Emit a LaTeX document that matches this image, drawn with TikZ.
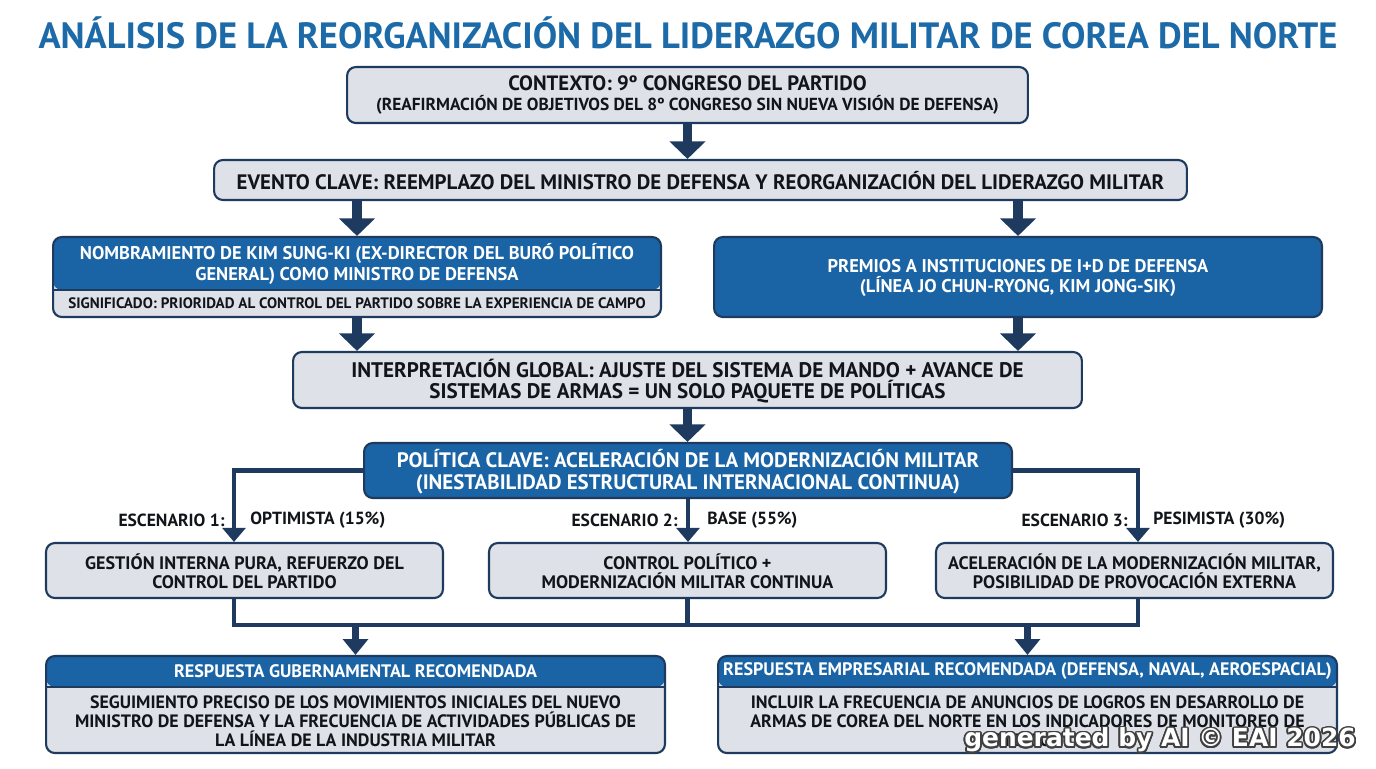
\documentclass[tikz,border=0pt]{standalone}
\usepackage{fontspec}
\setmainfont{PT Sans}
\newfontfamily\wmfont{DejaVu Sans}
\usepackage[copies]{contour}
\contourlength{1pt}
\usetikzlibrary{arrows.meta}

\definecolor{navy}{HTML}{1E3A5F}
\definecolor{hblue}{HTML}{1A64A6}
\definecolor{boxgray}{HTML}{DEE2E8}
\definecolor{titleblue}{HTML}{1C6BA8}
\definecolor{ink}{HTML}{111418}

\tikzset{
  graybox/.style={draw=navy, line width=1.2pt, fill=boxgray, rounded corners=5pt, inner sep=0pt},
  bluebox/.style={graybox, fill=hblue},
  headbox/.style={graybox, path picture={
      \fill[hblue] (path picture bounding box.north west) rectangle ([yshift=-#1]path picture bounding box.north east);
      \draw[navy, line width=0.8pt] ([yshift=-#1]path picture bounding box.north west) -- ([yshift=-#1]path picture bounding box.north east);}},
  dtxt/.style={align=center, text=ink, font=\bfseries\fontsize{10.5}{11.4}\selectfont, inner sep=0pt},
  wtxt/.style={dtxt, text=white},
  lbl/.style={text=ink, font=\bfseries\fontsize{10}{11}\selectfont, inner sep=0pt},
  bigarrow/.style={draw=navy, line width=5.5pt, -{Triangle[width=20pt,length=10pt]}},
  branch/.style={draw=navy, line width=2.8pt, -{Triangle[width=13pt,length=8pt]}},
  joinline/.style={draw=navy, line width=2.8pt},
  midarrow/.style={draw=navy, line width=4pt, -{Triangle[width=14pt,length=9pt]}}
}

\begin{document}
\begin{tikzpicture}[x=0.02cm,y=-0.02cm]
\useasboundingbox (0,0) rectangle (1376,768);

\node[text=titleblue, font=\bfseries\fontsize{20.8}{23}\selectfont] (title) at (688,33)
  {ANÁLISIS DE LA REORGANIZACIÓN DEL LIDERAZGO MILITAR DE COREA DEL NORTE};

\node[graybox, minimum width=13.62cm, minimum height=1.12cm] (ctx) at (687.5,95) {};
\node[dtxt, font=\bfseries\fontsize{11.8}{12}\selectfont] (ctxtxt) at (687.5,95) {CONTEXTO: 9º CONGRESO DEL PARTIDO\\[-1pt]
  {\fontsize{9.9}{10}\selectfont (REAFIRMACIÓN DE OBJETIVOS DEL 8º CONGRESO SIN NUEVA VISIÓN DE DEFENSA)}};

\node[graybox, minimum width=19.46cm, minimum height=0.8cm] (event) at (700.5,180) {};
\node[dtxt, font=\bfseries\fontsize{11.9}{12}\selectfont] (eventtxt) at (700.5,181)
  {EVENTO CLAVE: REEMPLAZO DEL MINISTRO DE DEFENSA Y REORGANIZACIÓN DEL LIDERAZGO MILITAR};

\node[headbox=1.06cm, minimum width=12.16cm, minimum height=1.6cm] (kim) at (357,277) {};
\node[wtxt] (kimhead) at (357,264) {NOMBRAMIENTO DE KIM SUNG-KI (EX-DIRECTOR DEL BURÓ POLÍTICO\\
  GENERAL) COMO MINISTRO DE DEFENSA};
\node[dtxt, font=\bfseries\fontsize{8.6}{10}\selectfont] (kimsig) at (357,303)
  {SIGNIFICADO: PRIORIDAD AL CONTROL DEL PARTIDO SOBRE LA EXPERIENCIA DE CAMPO};

\node[bluebox, minimum width=12.16cm, minimum height=1.6cm] (prem) at (1018,277) {};
\node[wtxt] (premtxt) at (1018,278) {PREMIOS A INSTITUCIONES DE I+D DE DEFENSA\\
  (LÍNEA JO CHUN-RYONG, KIM JONG-SIK)};

\node[graybox, minimum width=15.78cm, minimum height=1.12cm] (interp) at (687.5,380) {};
\node[dtxt, font=\bfseries\fontsize{12}{12.4}\selectfont] (interptxt) at (687.5,381)
  {INTERPRETACIÓN GLOBAL: AJUSTE DEL SISTEMA DE MANDO + AVANCE DE\\
  SISTEMAS DE ARMAS = UN SOLO PAQUETE DE POLÍTICAS};

\node[bluebox, minimum width=12.96cm, minimum height=1.1cm] (pol) at (688,470.5) {};
\node[wtxt, font=\bfseries\fontsize{11.9}{12.4}\selectfont] (poltxt) at (688,472)
  {POLÍTICA CLAVE: ACELERACIÓN DE LA MODERNIZACIÓN MILITAR\\
  (INESTABILIDAD ESTRUCTURAL INTERNACIONAL CONTINUA)};

\foreach \n/\x/\a/\b in {s1/244.5/{GESTIÓN INTERNA PURA, REFUERZO DEL}/{CONTROL DEL PARTIDO},
                         s2/687.5/{CONTROL POLÍTICO +}/{MODERNIZACIÓN MILITAR CONTINUA},
                         s3/1134.5/{ACELERACIÓN DE LA MODERNIZACIÓN MILITAR,}/{POSIBILIDAD DE PROVOCACIÓN EXTERNA}}
{
  \node[graybox, minimum width=7.94cm, minimum height=1.1cm] (\n) at (\x,570.5) {};
  \node[dtxt, font=\bfseries\fontsize{10.3}{11}\selectfont] (\n txt) at (\x,571.5) {\a\\ \b};
}

\node[lbl, anchor=east] (e1) at (225,520) {ESCENARIO 1:};
\node[lbl, anchor=west] (p1) at (250,520) {OPTIMISTA (15\%)};
\node[lbl, anchor=east] (e2) at (678,520) {ESCENARIO 2:};
\node[lbl, anchor=west] (p2) at (707,520) {BASE (55\%)};
\node[lbl, anchor=east] (e3) at (1128,520) {ESCENARIO 3:};
\node[lbl, anchor=west] (p3) at (1153,520) {PESIMISTA (30\%)};

\node[headbox=0.62cm, minimum width=12.38cm, minimum height=1.94cm] (gov) at (355.5,704.5) {};
\node[wtxt, font=\bfseries\fontsize{10.3}{11}\selectfont] (govhead) at (355.5,671.5) {RESPUESTA GUBERNAMENTAL RECOMENDADA};
\node[dtxt, font=\bfseries\fontsize{10.2}{10.8}\selectfont] (govtxt) at (355.5,721.5)
  {SEGUIMIENTO PRECISO DE LOS MOVIMIENTOS INICIALES DEL NUEVO\\
  MINISTRO DE DEFENSA Y LA FRECUENCIA DE ACTIVIDADES PÚBLICAS DE\\
  LA LÍNEA DE LA INDUSTRIA MILITAR};

\node[headbox=0.62cm, minimum width=12.38cm, minimum height=1.94cm] (biz) at (1027.5,704.5) {};
\node[wtxt, font=\bfseries\fontsize{10.3}{11}\selectfont] (bizhead) at (1027.5,671.5)
  {RESPUESTA EMPRESARIAL RECOMENDADA (DEFENSA, NAVAL, AEROESPACIAL)};
\node[dtxt, font=\bfseries\fontsize{10.2}{10.8}\selectfont] (biztxt) at (1027.5,721.5)
  {INCLUIR LA FRECUENCIA DE ANUNCIOS DE LOGROS EN DESARROLLO DE\\
  ARMAS DE COREA DEL NORTE EN LOS INDICADORES DE MONITOREO DE\\
  RIESGOS};

\draw[bigarrow] (ctx.south) -- (ctx.south |- event.north);
\foreach \n in {kim,prem}
{
  \draw[bigarrow] (event.south -| \n.north) -- (\n.north);
  \draw[bigarrow] (\n.south) -- (\n.south |- interp.north);
}
\draw[bigarrow] (interp.south) -- (interp.south |- pol.north);

\draw[branch] (pol.west) -| ([xshift=-0.21cm]s1.north);
\draw[branch] (pol.south) -- (pol.south |- s2.north);
\draw[branch] (pol.east) -| ([xshift=0.07cm]s3.north);

\coordinate (mid) at (688,625);
\draw[joinline] ([xshift=-0.21cm]s1.south) |- (mid) -| ([xshift=0.07cm]s3.south);
\draw[joinline] (s2.south) -- (s2.south |- mid);
\draw[midarrow] (gov.north |- mid) -- (gov.north);
\draw[midarrow] (biz.north |- mid) -- (biz.north);

\node[text=white, font=\wmfont\bfseries\fontsize{14.2}{15}\selectfont] (wm) at (1160,741)
  {\contour{black!75}{generated by AI © EAI 2026}};
\end{tikzpicture}
\end{document}
